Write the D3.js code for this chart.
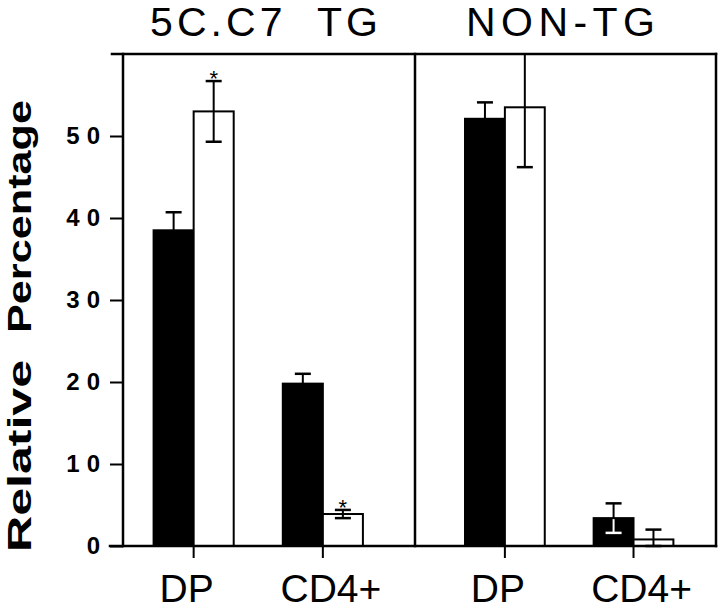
<!DOCTYPE html>
<html>
<head>
<meta charset="utf-8">
<script src="https://cdn.jsdelivr.net/npm/d3@7"></script>
<style>
  body { margin: 0; background: #fff; }
  text { font-family: "Liberation Sans", Arial, Helvetica, sans-serif; }
</style>
</head>
<body>
<svg id="chart" width="720" height="610"></svg>
<script>
// values
const panelTitles = ["5C.C7  TG", "NON-TG"];
const cellTypes = ["DP", "CD4+"];
const filledMeans = [[38.5, 19.8], [52.1, 3.4]];
const filledErrors = [[2.2, 1.2], [2.0, 1.8]];
const filledLowerShown = [[false, false], [false, true]];
const openMeans = [[53.0, 3.9], [53.5, 0.8]];
const openErrors = [[3.7, 0.5], [7.3, 1.2]];
const openStars = [[true, true], [false, false]];
const yTicks = [0, 10, 20, 30, 40, 50];
const yMax = 60;

const FRAME = { left: 123, right: 716, top: 54, base: 546, divider: 415 };
const panelBounds = [[FRAME.left, FRAME.divider], [FRAME.divider, FRAME.right]];
const panelOuter = [0.32, 0.36];
const panelAlign = [0.37, 0.54];
const labelNudge = [-7, 8];
const CAP = 8;

const svg = d3.select("#chart");

const y = d3.scaleLinear().domain([0, yMax]).range([FRAME.base, FRAME.top]);

// left axis ticks + labels
const gy = svg.append("g")
  .attr("transform", "translate(" + FRAME.left + ",0)")
  .call(d3.axisLeft(y).tickValues(yTicks).tickSize(13).tickSizeOuter(0).tickPadding(3));
gy.select(".domain").remove();
gy.selectAll(".tick line").attr("stroke", "#000").attr("stroke-width", 2);
gy.selectAll(".tick text")
  .attr("fill", "#000")
  .attr("font-size", 24)
  .attr("font-weight", "bold")
  .attr("font-family", "Liberation Sans, Arial, sans-serif")
  .attr("letter-spacing", "7px");

// y title, two words rotated
svg.append("text")
  .attr("transform", "translate(31,552) rotate(-90)")
  .attr("font-size", 34)
  .attr("font-weight", "bold")
  .attr("textLength", 192)
  .attr("lengthAdjust", "spacingAndGlyphs")
  .text("Relative");
svg.append("text")
  .attr("transform", "translate(31,333) rotate(-90)")
  .attr("font-size", 34)
  .attr("font-weight", "bold")
  .attr("textLength", 233)
  .attr("lengthAdjust", "spacingAndGlyphs")
  .text("Percentage");

const bars = svg.append("g");
const errs = svg.append("g");
const frame = svg.append("g");

panelTitles.forEach(function(title, p) {
  const x = d3.scaleBand()
    .domain(cellTypes)
    .range(panelBounds[p])
    .paddingInner(0.38)
    .paddingOuter(panelOuter[p])
    .align(panelAlign[p]);
  const half = x.bandwidth() / 2;

  const rows = cellTypes.map(function(c, i) {
    return {
      cell: c,
      filled: filledMeans[p][i],
      filledErr: filledErrors[p][i],
      lower: filledLowerShown[p][i],
      open: openMeans[p][i],
      openErr: openErrors[p][i],
      star: openStars[p][i]
    };
  });

  // panel title
  svg.append("text")
    .attr("x", (panelBounds[p][0] + panelBounds[p][1]) / 2 - 5)
    .attr("y", 36)
    .attr("text-anchor", "middle")
    .attr("font-size", 41)
    .attr("textLength", p === 0 ? 228 : 189)
    .attr("lengthAdjust", "spacing")
    .style("white-space", "pre")
    .text(title);

  // filled bars
  bars.selectAll(null)
    .data(rows)
    .enter()
    .append("rect")
    .attr("x", function(d) { return x(d.cell); })
    .attr("y", function(d) { return y(d.filled); })
    .attr("width", half)
    .attr("height", function(d) { return y(0) - y(d.filled); })
    .attr("fill", "#000")
    .attr("stroke", "#000")
    .attr("stroke-width", 2);

  // open bars
  bars.selectAll(null)
    .data(rows)
    .enter()
    .append("rect")
    .attr("x", function(d) { return x(d.cell) + half; })
    .attr("y", function(d) { return y(d.open); })
    .attr("width", half)
    .attr("height", function(d) { return y(0) - y(d.open); })
    .attr("fill", "#fff")
    .attr("stroke", "#000")
    .attr("stroke-width", 2);

  rows.forEach(function(d) {
    // filled bar whisker
    let cx = x(d.cell) + half / 2;
    let top = d.filled + d.filledErr;
    errs.append("line")
      .attr("x1", cx).attr("x2", cx)
      .attr("y1", y(d.filled)).attr("y2", y(top))
      .attr("stroke", "#000").attr("stroke-width", 2);
    errs.append("line")
      .attr("x1", cx - CAP).attr("x2", cx + CAP)
      .attr("y1", y(top)).attr("y2", y(top))
      .attr("stroke", "#000").attr("stroke-width", 2.5);
    if (d.lower) {
      let bot = d.filled - d.filledErr;
      errs.append("line")
        .attr("x1", cx).attr("x2", cx)
        .attr("y1", y(d.filled) + 1).attr("y2", y(bot))
        .attr("stroke", "#fff").attr("stroke-width", 2);
      errs.append("line")
        .attr("x1", cx - CAP).attr("x2", cx + CAP)
        .attr("y1", y(bot)).attr("y2", y(bot))
        .attr("stroke", "#fff").attr("stroke-width", 2.5);
    }

    // open bar whisker, clipped to the frame
    cx = x(d.cell) + half * 1.5;
    let hi = Math.min(yMax, d.open + d.openErr);
    let lo = Math.max(0, d.open - d.openErr);
    errs.append("line")
      .attr("x1", cx).attr("x2", cx)
      .attr("y1", y(lo)).attr("y2", y(hi))
      .attr("stroke", "#000").attr("stroke-width", 2);
    [lo, hi].forEach(function(v) {
      if (v >= yMax) return;
      errs.append("line")
        .attr("x1", cx - CAP).attr("x2", cx + CAP)
        .attr("y1", y(v)).attr("y2", y(v))
        .attr("stroke", "#000").attr("stroke-width", 2.5);
    });
    if (d.star) {
      errs.append("text")
        .attr("x", cx)
        .attr("y", y(hi) + 5)
        .attr("text-anchor", "middle")
        .attr("font-size", 22)
        .text("*");
    }
  });

  // bottom ticks + category labels
  const gx = svg.append("g")
    .attr("transform", "translate(0," + FRAME.base + ")")
    .call(d3.axisBottom(x).tickSize(12).tickSizeOuter(0).tickPadding(16));
  gx.select(".domain").remove();
  gx.selectAll(".tick line").attr("stroke", "#000").attr("stroke-width", 2);
  gx.selectAll(".tick text")
    .attr("fill", "#000")
    .attr("font-size", 39)
    .attr("font-family", "Liberation Sans, Arial, sans-serif")
    .attr("dx", function(d, i) { return labelNudge[i]; });
});

// frame lines
const lines = [
  [FRAME.left - 11, y(yMax), FRAME.right, y(yMax)],
  [FRAME.left - 13, y(0), FRAME.right, y(0)],
  [FRAME.left, y(yMax), FRAME.left, y(0)],
  [FRAME.divider, y(yMax), FRAME.divider, y(0)],
  [FRAME.right, y(yMax), FRAME.right, y(0)]
];
frame.selectAll("line")
  .data(lines)
  .enter()
  .append("line")
  .attr("x1", function(d) { return d[0]; })
  .attr("y1", function(d) { return d[1]; })
  .attr("x2", function(d) { return d[2]; })
  .attr("y2", function(d) { return d[3]; })
  .attr("stroke", "#000")
  .attr("stroke-width", 2.5)
  .attr("stroke-linecap", "square");
</script>
</body>
</html>
